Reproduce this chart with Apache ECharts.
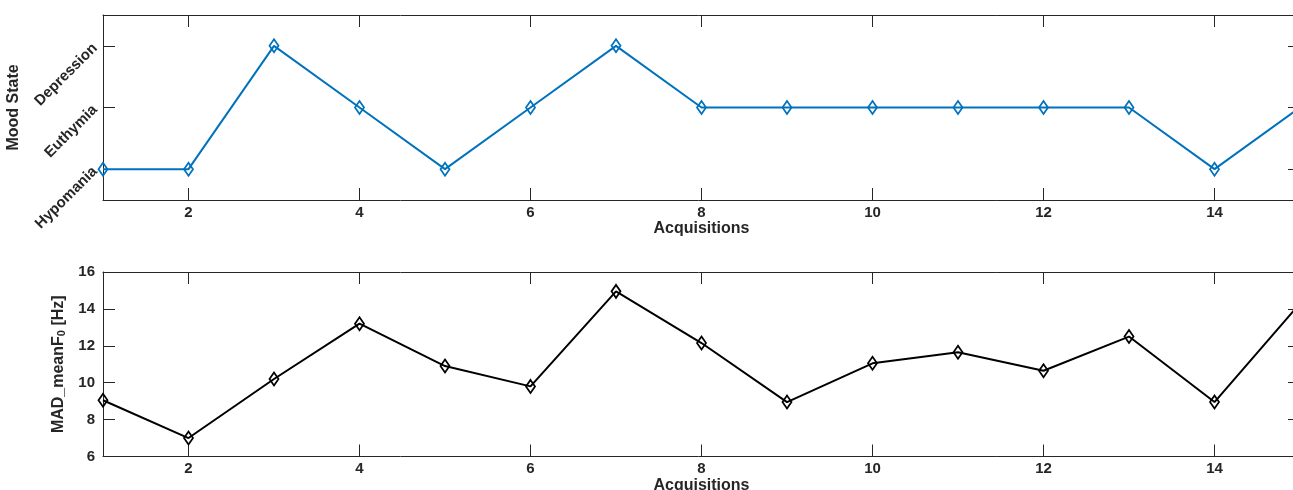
<!DOCTYPE html>
<html><head><meta charset="utf-8">
<script src="https://cdn.jsdelivr.net/npm/echarts@6/dist/echarts.min.js"></script>
<style>html,body{margin:0;padding:0;background:#fff}#c{width:1293px;height:490px}</style>
</head><body><div id="c"></div>
<script>
const acquisitions = [1,2,3,4,5,6,7,8,9,10,11,12,13,14,15];
const moodStates = ['Hypomania','Euthymia','Depression'];
const moodValues = ['Hypomania','Hypomania','Depression','Euthymia','Hypomania','Euthymia','Depression','Euthymia','Euthymia','Euthymia','Euthymia','Euthymia','Euthymia','Hypomania','Euthymia'];
const madMeanF0 = [9.05,7.0,10.2,13.2,10.9,9.8,14.95,12.15,8.95,11.05,11.65,10.65,12.5,8.95,14.3];
const xTicks = [2,4,6,8,10,12,14];

const FONT = '"Liberation Sans", Arial, Helvetica, sans-serif';
const AX = '#262626';
const axisLine = {show:true, lineStyle:{color:AX, width:1}};
const tick = {show:true, inside:true, length:12, lineStyle:{color:AX, width:1}};
const lbl = {color:AX, fontFamily:FONT, fontWeight:'bold', fontSize:15};
const nameStyle = {color:AX, fontFamily:FONT, fontWeight:'bold', fontSize:16};

function xAxes(gridIndex, gap, margin){
  return [
    {type:'value', gridIndex, min:1, max:15, position:'bottom',
     axisLine, splitLine:{show:false},
     axisTick:Object.assign({customValues:xTicks}, tick),
     axisLabel:Object.assign({customValues:xTicks, margin}, lbl),
     name:'Acquisitions', nameLocation:'middle', nameGap:gap, nameTextStyle:nameStyle},
    {type:'value', gridIndex, min:1, max:15, position:'top',
     axisLine, splitLine:{show:false},
     axisTick:Object.assign({customValues:xTicks}, tick),
     axisLabel:{show:false}}
  ];
}

const chart = echarts.init(document.getElementById('c'), null, {renderer:'canvas'});
chart.setOption({
  animation:false,
  backgroundColor:'#fff',
  grid:[
    {left:103, top:15, width:1197, height:185, containLabel:false, outerBoundsMode:'none'},
    {left:103, top:272, width:1197, height:184.5, containLabel:false, outerBoundsMode:'none'}
  ],
  xAxis:[...xAxes(0, 19, 5), ...xAxes(1, 16, 5)],
  yAxis:[
    {type:'category', gridIndex:0, data:moodStates, boundaryGap:true, position:'left',
     axisLine, splitLine:{show:false},
     axisTick:Object.assign({alignWithLabel:true}, tick),
     axisLabel:Object.assign({rotate:45, margin:8}, lbl),
     name:'Mood State', nameLocation:'middle', nameGap:76, nameTextStyle:nameStyle},
    {type:'category', gridIndex:0, data:moodStates, boundaryGap:true, position:'right',
     axisLine, splitLine:{show:false},
     axisTick:Object.assign({alignWithLabel:true}, tick),
     axisLabel:{show:false}},
    {type:'value', gridIndex:1, min:6, max:16, interval:2, position:'left',
     axisLine, splitLine:{show:false}, axisTick:tick,
     axisLabel:Object.assign({margin:8}, lbl),
     name:'MAD_meanF{s|0} [Hz]', nameLocation:'middle', nameGap:26,
     nameTextStyle:Object.assign({}, nameStyle, {rich:{
       s:{fontFamily:FONT, fontWeight:'bold', fontSize:11, color:AX, padding:[7,0,0,0], verticalAlign:'bottom'}
     }})},
    {type:'value', gridIndex:1, min:6, max:16, interval:2, position:'right',
     axisLine, splitLine:{show:false}, axisTick:tick, axisLabel:{show:false}}
  ],
  series:[
    {type:'line', xAxisIndex:0, yAxisIndex:0,
     data:acquisitions.map((a,i)=>[a, moodValues[i]]),
     symbol:'diamond', symbolSize:[9,13], showAllSymbol:true,
     lineStyle:{color:'#0072BD', width:2},
     itemStyle:{color:'rgba(255,255,255,0)', borderColor:'#0072BD', borderWidth:1.8},
     emphasis:{disabled:true}},
    {type:'line', xAxisIndex:2, yAxisIndex:2,
     data:acquisitions.map((a,i)=>[a, madMeanF0[i]]),
     symbol:'diamond', symbolSize:[9,13], showAllSymbol:true,
     lineStyle:{color:'#000', width:2},
     itemStyle:{color:'rgba(255,255,255,0)', borderColor:'#000', borderWidth:1.8},
     emphasis:{disabled:true}}
  ]
});
</script></body></html>
